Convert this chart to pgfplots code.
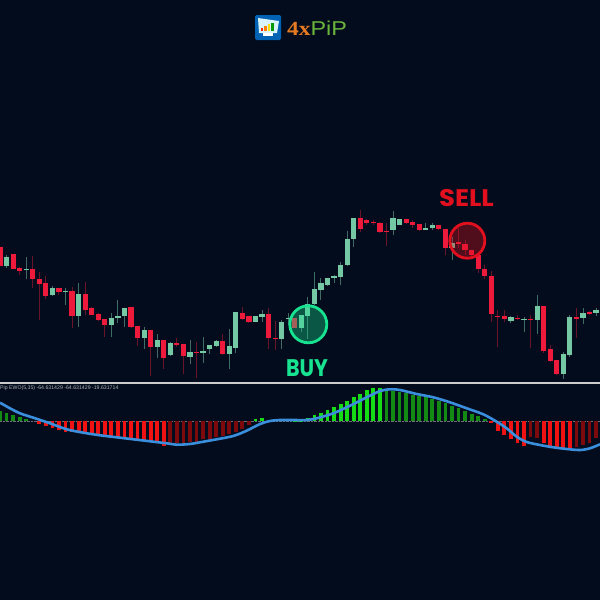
\documentclass[border=0pt]{standalone}
\usepackage{fontspec}
\setmainfont{Liberation Sans}
\newfontfamily\serifb{Liberation Serif}
\newfontfamily\pop{Poppins}
\usepackage{pgfplots}
\usepackage{pgfplotstable}
\pgfplotsset{compat=1.18}
\definecolor{bg}{HTML}{020C1C}
\definecolor{cred}{HTML}{EE1A3C}
\definecolor{cgreen}{HTML}{74C9A4}
\definecolor{wred}{HTML}{6A142B}
\definecolor{wgreen}{HTML}{3F6C64}
\definecolor{hbr}{HTML}{F01212}
\definecolor{hdr}{HTML}{7C0A0C}
\definecolor{hbg}{HTML}{16DC16}
\definecolor{hdg}{HTML}{128A14}
\definecolor{eline}{HTML}{3A8EDC}
\definecolor{buyc}{HTML}{17E391}
\definecolor{sellc}{HTML}{E2101E}
% x: pixel position, wt/wb: wick top/bottom, bt/bb: body top/bottom (image y)
\pgfplotstableread{
x wt wb bt bb
0 246.7 266 246.7 266
13.1 254.3 269 254.3 268.7
19.65 266.7 275 268.3 270.7
32.75 256 287.7 269.3 279.3
39.3 272.3 320 279 283.7
45.85 276 299.3 283.3 296
58.95 288 295 288 292.3
72.05 286.7 327.7 291 316.3
85.15 282 315 294 310
91.7 307 315 307.7 314.7
98.25 313 321 314 320.3
104.8 319 336.7 319.3 325
131 307 328.3 307 327
137.55 326 346 326.3 338
150.65 330 375.7 330.3 346.7
163.75 340 369 340.3 357.7
176.85 338.3 346.7 343.3 345.3
183.4 344 374.3 344.3 356
196.5 341.7 378.3 352 352.9
222.7 334.3 355 341 354.3
242.35 306.7 320 312.7 319
248.9 315.5 322.5 316 322
268.55 308 349 314 338.3
275.1 320.7 349.7 337.7 339
294.75 318 328 318.3 327.7
360.25 210 231.7 218 229.3
366.8 219 225 220 223.3
373.35 220 225 222.3 223.2
379.9 221.7 233.3 222.7 232
386.45 223.3 246 231.3 232.2
406.1 218.5 224 219 222.7
412.65 220 228.3 222 224.7
419.2 224 231 224.3 230
438.85 224.5 230 224.7 229.3
445.4 228.7 255 228.7 248.3
458.5 228.3 248.3 242 244
465 240 255 244.3 249.7
471.6 250 258 250 255
478.15 255 273.3 255 269
484.7 265 279.3 268.7 276
491.25 270.7 321.7 276.3 314.3
497.8 310 346.7 315.7 316.5
504.35 310 321.7 316 319.3
517.45 315 320 317.7 319.3
530.55 315 347.7 319.3 320.3
543.65 305.7 353.3 305.7 350.7
550.2 345 361.7 349 360.7
556.75 360 375 360 374.3
576.4 308.3 338.3 317 318.7
589.5 311 315 312 314
}\redc
\pgfplotstableread{
x wt wb bt bb
6.55 255 268.3 257.3 266
26.2 257.3 279 269 270.3
52.4 286 295.7 288 294.7
65.5 288.3 304.7 290.7 292.3
78.6 282.7 327 294.3 316.3
111.35 312.7 336.7 317.7 325
117.9 300 322.7 315.7 317.7
124.45 307.7 326.7 307.7 315.7
144.1 327 349.3 330 338
157.2 334.3 357.7 340.3 347
170.3 342.3 355.7 343.3 354.7
190 340.3 363.7 352 356.7
203 337.3 362.7 351.3 353.3
209.6 345 353.7 345.3 349
216.15 340 346.7 341 345.7
229.25 329.3 369.3 345.7 354
235.8 312.3 353.3 312.3 347.7
255.45 316 322 316.3 322
262 310.3 322 314.3 317
281.65 320.3 349.3 322.3 338.7
288.2 313.3 325 318 319.3
301.3 315.3 331.7 315.3 327.7
307.85 297.3 339.3 303.7 315.7
314.4 272.3 305 289 304
320.95 278 300 283 289.7
327.5 277.5 285.5 277.7 285
334.05 275 283.3 276.3 278
340.6 262.3 285 264.7 277.3
347.15 230.7 265.7 238.7 265.3
353.7 218 246.7 218 238.7
393 211 235.3 218.3 230.3
399.55 219 225 219.3 224.7
425.75 223.3 230 228.3 229.7
432.3 222.7 230 224.7 228
452 236.7 260 242.7 248.3
510.9 316 322.7 317.3 321.3
524 316.7 332.3 319 320
537.1 295 334 306 320
563.3 351.7 378.7 354.3 374.3
569.85 315 356.7 317.3 355
583 308.3 324 313.3 318.3
596.05 308.3 316 309.7 313.3
}\greenc
% histogram: t = image y of the bar end, z = zero line at 421.3
\pgfplotstableread{
x t z
0 411 421.3
6.55 412.7 421.3
13.1 415 421.3
19.65 417.3 421.3
26.2 419.3 421.3
386.45 390 421.3
393 391 421.3
399.55 391.7 421.3
406.1 393 421.3
412.65 394.7 421.3
419.2 395.7 421.3
425.75 396.7 421.3
432.3 398.7 421.3
438.85 400.7 421.3
445.4 403.3 421.3
452 406 421.3
458.5 408 421.3
465 410.7 421.3
471.6 413.7 421.3
478.15 416 421.3
484.7 418.7 421.3
}\hdgreen
\pgfplotstableread{
x t z
255.45 418.7 421.3
262 418.3 421.3
288.2 420 421.3
294.75 420.7 421.3
301.3 420.7 421.3
307.85 418.3 421.3
314.4 414.7 421.3
320.95 412.7 421.3
327.5 409.7 421.3
334.05 406.7 421.3
340.6 403.7 421.3
347.15 401.3 421.3
353.7 397.3 421.3
360.25 394 421.3
366.8 390.3 421.3
373.35 387.7 421.3
379.9 387.7 421.3
}\hbgreen
\pgfplotstableread{
x t z
39.3 424.3 421.3
45.85 426 421.3
52.4 428.3 421.3
58.95 430 421.3
65.5 431.7 421.3
72.05 432.3 421.3
78.6 432.3 421.3
85.15 433.3 421.3
91.7 434.3 421.3
98.25 435.7 421.3
104.8 436.7 421.3
111.35 437.3 421.3
117.9 438.3 421.3
124.45 439 421.3
131 439.3 421.3
137.55 440 421.3
144.1 440.7 421.3
150.65 442.3 421.3
157.2 443.3 421.3
163.75 445.7 421.3
491.25 422.7 421.3
497.8 430.7 421.3
504.35 435 421.3
510.9 439.3 421.3
517.45 443.3 421.3
524 445.7 421.3
543.65 443.3 421.3
550.2 448.3 421.3
556.75 448.3 421.3
563.3 448.3 421.3
569.85 449 421.3
}\hbred
\pgfplotstableread{
x t z
170.3 443.3 421.3
176.85 443.3 421.3
183.4 442.7 421.3
190 442.3 421.3
196.5 442 421.3
203 439.3 421.3
209.6 440 421.3
216.15 437.3 421.3
222.7 435.7 421.3
229.25 434.3 421.3
235.8 432 421.3
242.35 429 421.3
248.9 424.7 421.3
530.55 437.3 421.3
537.1 438.3 421.3
576.4 446.7 421.3
583 445 421.3
589.5 442.7 421.3
596 438.3 421.3
}\hdred
% one vertical segment per table row, separated by unbounded points
\newcommand\segplot[4]{% table, col a, col b, style
  \gdef\segcoords{}%
  \pgfplotstablegetrowsof{#1}\let\segrows\pgfplotsretval
  \pgfmathtruncatemacro\seglast{\segrows-1}%
  \pgfplotsforeachungrouped \rr in {0,...,\seglast}{%
    \pgfplotstablegetelem{\rr}{x}\of{#1}\let\vx\pgfplotsretval
    \pgfplotstablegetelem{\rr}{#2}\of{#1}\let\va\pgfplotsretval
    \pgfplotstablegetelem{\rr}{#3}\of{#1}\let\vb\pgfplotsretval
    \xdef\segcoords{\segcoords(\vx,\va)(\vx,\vb)(\vx,nan)}%
  }%
  \edef\segcmd{\noexpand\addplot[#4,forget plot,unbounded coords=jump] coordinates {\segcoords};}%
  \segcmd
}
\pgfplotsset{
  page/.style={at={(0,0)},anchor=south west,
    scale only axis,width=600pt,height=600pt,
    xmin=0,xmax=600,ymin=0,ymax=600,y dir=reverse,
    ticks=none,axis line style={draw=none}},
}
\begin{document}
\begin{tikzpicture}
\path[use as bounding box] (0,0) rectangle (600pt,600pt);
\fill[bg] (0,0) rectangle (600pt,600pt);
\begin{axis}[page]
% histogram
\addplot[gray!60,densely dotted,line width=0.4pt,opacity=0.6,forget plot] coordinates {(0,421.3) (600,421.3)};
\segplot{\hdgreen}{t}{z}{hdg,line width=3.8pt}
\segplot{\hbgreen}{t}{z}{hbg,line width=3.8pt}
\segplot{\hbred}{t}{z}{hbr,line width=3.8pt}
\segplot{\hdred}{t}{z}{hdr,line width=3.8pt}
% wicks
\segplot{\redc}{wt}{wb}{wred,line width=1pt}
\segplot{\greenc}{wt}{wb}{wgreen,line width=1pt}
% bodies
\segplot{\redc}{bt}{bb}{cred,line width=5.2pt}
\segplot{\greenc}{bt}{bb}{cgreen,line width=5.2pt}
% EWO signal line
\addplot[eline,line width=2.6pt,smooth,forget plot] coordinates {
(0,402.7)(10,408.3)(20,413.3)(33.3,417.7)(50,423.3)(66.7,429.3)(83.3,432.7)(100,435.3)(116.7,437.3)(133.3,439.3)(150,441.3)(166.7,443.3)(176.7,444.7)(190,444)(200,442.3)(216.7,439.3)(233.3,436)(246.7,430.7)(260,424)(270,421)(280,420)(293.3,420)(306.7,420)(316.7,418.3)(333.3,413.3)(350,405.7)(366.7,397.3)(380,391)(390,389.3)(400,390)(416.7,394)(433.3,397.3)(450,402.3)(466.7,408.3)(483.3,414.3)(496.7,421.7)(506.7,428.3)(516.7,436.7)(526.7,442)(540,445)(553.3,447.3)(566.7,449)(580,450)(590,448.3)(600,444.3)};
% separator
\addplot[black!20,line width=1.8pt,forget plot] coordinates {(0,383) (600,383)};
% signal circles
\draw[buyc,line width=2.8pt,fill=buyc,fill opacity=0.35] (axis cs:308.3,324.3) circle[radius=18.5pt];
\draw[sellc,line width=2.8pt,fill=sellc,fill opacity=0.35] (axis cs:467.3,240.7) circle[radius=17.5pt];
% labels
\node[text=buyc,font=\fontsize{24}{24}\selectfont\pop\bfseries,xscale=0.86] at (axis cs:307,368) {BUY};
\node[text=sellc,font=\fontsize{24}{24}\selectfont\pop\bfseries,xscale=1.08] at (axis cs:466.5,198.5) {SELL};
\node[anchor=west,text=black!30,font=\fontsize{5.2}{6}\selectfont,inner sep=0pt] at (axis cs:0,388) {Pip EWO(5,35) -64.631429 -64.631429 -19.631714};
% logo
\fill[blue!45!cyan!70!black,rounded corners=1.5pt] (axis cs:255,15) rectangle (axis cs:281,40);
\fill[white!85!cyan] (axis cs:258,18) -- (axis cs:279,21) -- (axis cs:277,33) -- (axis cs:259,33) -- cycle;
\fill[white] (axis cs:263,33) rectangle (axis cs:273,36);
\fill[red!70!orange] (axis cs:261,31) rectangle (axis cs:263,28);
\fill[orange] (axis cs:264,31) rectangle (axis cs:266.5,26);
\fill[yellow!80!orange] (axis cs:267.5,31) rectangle (axis cs:270,24);
\fill[green!60!black] (axis cs:271,31) rectangle (axis cs:273.5,22.5);
\node[anchor=west,inner sep=0pt,xscale=1.17,font=\fontsize{20}{20}\selectfont] at (axis cs:287,28.5) {{\serifb\bfseries\color[HTML]{E67A22}4x}{\color[HTML]{6BB43C}PiP}};
\end{axis}
\end{tikzpicture}
\end{document}
